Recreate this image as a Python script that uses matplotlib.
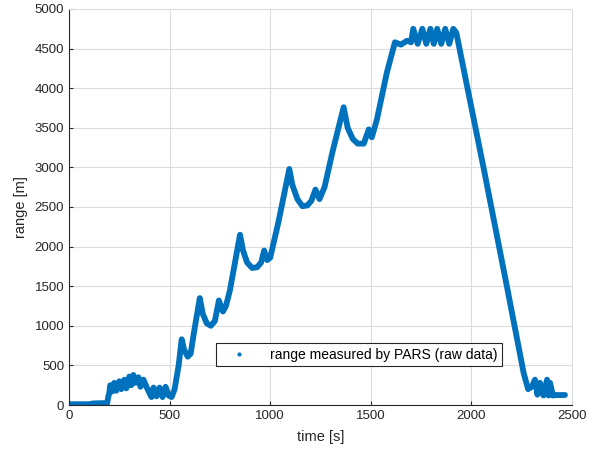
import numpy as np
import matplotlib.pyplot as plt
from matplotlib.lines import Line2D

# --- datos ---
time_s = [0, 100, 120, 190, 195, 200, 205, 215, 225, 235, 250, 260, 275, 285, 300, 310,
          320, 330, 345, 355, 370, 385, 400, 410, 420, 435, 450, 465, 480, 495, 510, 525,
          545, 560, 572, 590, 605, 620, 650, 665, 685, 705, 725, 745, 765, 780, 800,
          850, 865, 885, 910, 935, 955, 970, 985, 1000, 1040, 1095, 1110, 1135, 1160,
          1185, 1205, 1225, 1245, 1270, 1310, 1365, 1385, 1410, 1435, 1465, 1490, 1505,
          1530, 1580, 1620, 1650, 1680, 1700, 1711, 1733, 1756, 1776, 1796, 1813, 1830,
          1850, 1870, 1890, 1910, 1925, 2059, 2176, 2260, 2282, 2300, 2316, 2328, 2341,
          2358, 2376, 2384, 2391, 2405, 2420, 2465]
range_m = [10, 10, 20, 25, 100, 150, 250, 170, 280, 180, 300, 200, 320, 210, 360, 250,
           380, 280, 350, 230, 320, 230, 150, 100, 220, 110, 220, 100, 230, 120, 100, 200,
           500, 830, 700, 610, 650, 900, 1350, 1150, 1030, 1000, 1060, 1320, 1180, 1250, 1450,
           2150, 1950, 1800, 1730, 1740, 1800, 1950, 1830, 1860, 2300, 2980, 2780, 2600, 2510,
           2520, 2580, 2720, 2600, 2750, 3200, 3760, 3500, 3360, 3300, 3300, 3480, 3380,
           3600, 4200, 4580, 4550, 4600, 4580, 4750, 4560, 4750, 4560, 4750, 4560, 4750,
           4560, 4750, 4560, 4750, 4700, 3014, 1503, 400, 200, 230, 320, 130, 280,
           120, 320, 120, 280, 120, 125, 126]

legend_label = "range measured by PARS (raw data)"
x_ticks = [0, 500, 1000, 1500, 2000, 2500]
y_ticks = list(range(0, 5001, 500))

color_line = "#0072BD"
color_axis = "#262626"

plt.rcParams['font.family'] = ['Liberation Sans', 'DejaVu Sans']

fig = plt.figure(figsize=(5.92, 4.59), dpi=100)
ax = fig.add_axes([69 / 592, (459 - 405) / 459, 503 / 592, 396 / 459])

ax.plot(time_s, range_m, color=color_line, lw=4.2, solid_joinstyle='round',
        solid_capstyle='round')

ax.set_xlim(0, 2500)
ax.set_ylim(0, 5000)
ax.set_xticks(x_ticks)
ax.set_yticks(y_ticks)
ax.tick_params(direction='in', length=3, labelsize=9.5, colors=color_axis,
               top=False, right=False)
ax.grid(True, color='#dcdcdc', lw=0.8)
ax.set_axisbelow(True)

for s in ['left', 'bottom']:
    ax.spines[s].set_color(color_axis)
    ax.spines[s].set_linewidth(0.8)
for s in ['top', 'right']:
    ax.spines[s].set_color('#dcdcdc')
    ax.spines[s].set_linewidth(0.8)

ax.set_xlabel("time [s]", fontsize=10.5, color=color_axis, labelpad=6)
ax.set_ylabel("range [m]", fontsize=10.5, color=color_axis, labelpad=5)

proxy = Line2D([], [], color=color_line, marker='.', linestyle='none', markersize=4)
leg = ax.legend([proxy], [legend_label], loc='lower left',
                bbox_to_anchor=(0.279, 0.08), fontsize=10, fancybox=False,
                framealpha=1, edgecolor=color_axis, borderpad=0.35,
                handletextpad=0.9, handlelength=2.6)
leg.get_frame().set_linewidth(0.8)

fig.savefig("out.png", dpi=100)
